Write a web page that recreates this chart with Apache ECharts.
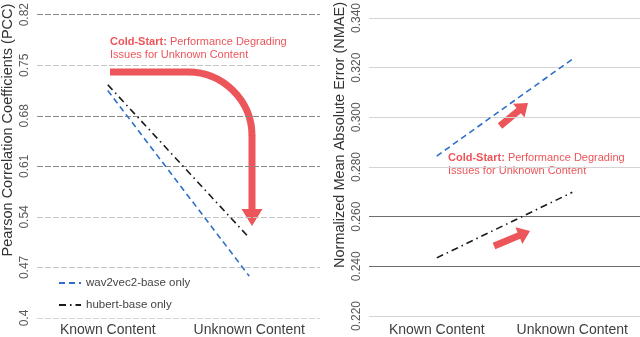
<!DOCTYPE html>
<html>
<head>
<meta charset="utf-8">
<script src="https://cdn.jsdelivr.net/npm/echarts@6/dist/echarts.min.js"></script>
<style>
  html, body { margin: 0; padding: 0; background: #fff; }
  #chart { width: 640px; height: 337px; }
</style>
</head>
<body>
<div id="chart"></div>
<script>
  // categories and values
  const categories = ['Known Content', 'Unknown Content'];
  const pccWav2vec = [0.715, 0.458];
  const pccHubert = [0.723, 0.511];
  const nmaeWav2vec = [0.2844, 0.3234];
  const nmaeHubert = [0.2434, 0.2698];

  const pccTicks = ['0.4', '0.47', '0.54', '0.61', '0.68', '0.75', '0.82'];
  const nmaeTicks = ['0.220', '0.240', '0.260', '0.280', '0.300', '0.320', '0.340'];

  const font = '"Liberation Sans", Arial, sans-serif';
  const red = '#ec5559';
  const blue = '#2e6fc7';
  const black = '#1a1a1a';

  const dashed = [6, 4];
  const dashDot = [7, 4, 1.5, 4];

  /* arrow made of a thick shaft and a triangle head */
  function arrow(x1, y1, x2, y2, w, head) {
    let dx = x2 - x1, dy = y2 - y1;
    let len = Math.sqrt(dx * dx + dy * dy);
    let ux = dx / len, uy = dy / len;
    let nx = -uy, ny = ux;
    let bx = x2 - ux * head, by = y2 - uy * head;
    let hw = w / 2, hh = head * 0.75;
    return {
      type: 'polygon',
      shape: {
        points: [
          [x1 + nx * hw, y1 + ny * hw],
          [bx + nx * hw, by + ny * hw],
          [bx + nx * hh, by + ny * hh],
          [x2, y2],
          [bx - nx * hh, by - ny * hh],
          [bx - nx * hw, by - ny * hw],
          [x1 - nx * hw, y1 - ny * hw]
        ]
      },
      style: {fill: red}
    };
  }

  function note(x, y) {
    return {
      type: 'text',
      x: x,
      y: y,
      style: {
        text: '{b|Cold-Start:} Performance Degrading\nIssues for Unknown Content',
        font: '11px ' + font,
        fill: red,
        lineHeight: 13,
        rich: {
          b: {fontWeight: 'bold', fontSize: 11, fontFamily: font, fill: red}
        }
      }
    };
  }

  let chart = echarts.init(document.getElementById('chart'));

  chart.setOption({
    backgroundColor: '#fff',
    animation: false,
    textStyle: {fontFamily: font},
    grid: [
      {left: 37, right: 320, top: 12, bottom: 17},
      {left: 369, right: 0, top: 14, bottom: 19}
    ],
    legend: {
      data: ['wav2vec2-base only', 'hubert-base only'],
      orient: 'vertical',
      left: 53,
      top: 272,
      itemGap: 10,
      itemWidth: 22,
      itemHeight: 10,
      itemStyle: {opacity: 0},
      textStyle: {fontSize: 11.5, color: '#444', fontFamily: font}
    },
    xAxis: [
      {
        type: 'category',
        gridIndex: 0,
        data: categories,
        axisLine: {show: false},
        axisTick: {show: false},
        axisLabel: {fontSize: 14, color: '#404040', margin: 5, interval: 0}
      },
      {
        type: 'category',
        gridIndex: 1,
        data: categories,
        axisLine: {show: false},
        axisTick: {show: false},
        axisLabel: {fontSize: 14, color: '#404040', margin: 7, interval: 0}
      }
    ],
    yAxis: [
      {
        type: 'value',
        gridIndex: 0,
        min: 0.4,
        max: 0.82,
        interval: 0.07,
        axisLine: {show: false},
        axisTick: {show: false},
        axisLabel: {
          rotate: 90,
          margin: 6,
          fontSize: 12,
          color: '#595959',
          formatter: (v, i) => pccTicks[i]
        },
        splitLine: {
          lineStyle: {
            type: [6, 2],
            width: 1,
            color: ['#d6d6d6', '#c4c4c4', '#c4c4c4', '#8a8a8a', '#8a8a8a', '#c4c4c4', '#8a8a8a']
          }
        }
      },
      {
        type: 'value',
        gridIndex: 1,
        min: 0.22,
        max: 0.34,
        interval: 0.02,
        axisLine: {show: false},
        axisTick: {show: false},
        axisLabel: {
          rotate: 90,
          margin: 6,
          fontSize: 12,
          color: '#595959',
          formatter: (v, i) => nmaeTicks[i]
        },
        splitLine: {
          lineStyle: {
            width: 1,
            color: ['#d4d4d4', '#6e6e6e', '#6e6e6e', '#d4d4d4', '#d4d4d4', '#d4d4d4', '#d4d4d4']
          }
        }
      }
    ],
    series: [
      {
        name: 'wav2vec2-base only',
        type: 'line',
        xAxisIndex: 0,
        yAxisIndex: 0,
        data: pccWav2vec,
        symbol: 'none',
        lineStyle: {color: blue, width: 1.6, type: dashed},
        itemStyle: {color: blue}
      },
      {
        name: 'hubert-base only',
        type: 'line',
        xAxisIndex: 0,
        yAxisIndex: 0,
        data: pccHubert,
        symbol: 'none',
        lineStyle: {color: black, width: 1.6, type: dashDot},
        itemStyle: {color: black}
      },
      {
        name: 'wav2vec2-base only',
        type: 'line',
        xAxisIndex: 1,
        yAxisIndex: 1,
        data: nmaeWav2vec,
        symbol: 'none',
        lineStyle: {color: blue, width: 1.6, type: dashed},
        itemStyle: {color: blue}
      },
      {
        name: 'hubert-base only',
        type: 'line',
        xAxisIndex: 1,
        yAxisIndex: 1,
        data: nmaeHubert,
        symbol: 'none',
        lineStyle: {color: black, width: 1.6, type: dashDot},
        itemStyle: {color: black}
      }
    ],
    graphic: [
      // axis titles
      {
        type: 'text',
        x: 8,
        y: 130,
        rotation: Math.PI / 2,
        style: {
          text: 'Pearson Correlation Coefficients (PCC)',
          font: '14.5px ' + font,
          fill: '#333',
          align: 'center',
          verticalAlign: 'middle'
        }
      },
      {
        type: 'text',
        x: 340,
        y: 135,
        rotation: Math.PI / 2,
        style: {
          text: 'Normalized Mean Absolute Error (NMAE)',
          font: '14.5px ' + font,
          fill: '#333',
          align: 'center',
          verticalAlign: 'middle'
        }
      },
      // big curved arrow, left panel
      {
        type: 'line',
        shape: {x1: 110, y1: 72, x2: 188.5, y2: 72},
        style: {stroke: red, lineWidth: 7}
      },
      {
        type: 'arc',
        shape: {cx: 188, cy: 136, r: 64, startAngle: -Math.PI / 2, endAngle: 0, clockwise: true},
        style: {fill: 'none', stroke: red, lineWidth: 7}
      },
      {
        type: 'line',
        shape: {x1: 252, y1: 135.5, x2: 252, y2: 211},
        style: {stroke: red, lineWidth: 7}
      },
      {
        type: 'polygon',
        shape: {points: [[241.5, 209], [262.5, 209], [252, 226]]},
        style: {fill: red}
      },
      note(110, 35),
      // small arrows, right panel
      arrow(500, 126, 528, 103, 7, 12),
      arrow(494, 246, 530, 231, 7, 12),
      note(448, 151)
    ]
  });
</script>
</body>
</html>
